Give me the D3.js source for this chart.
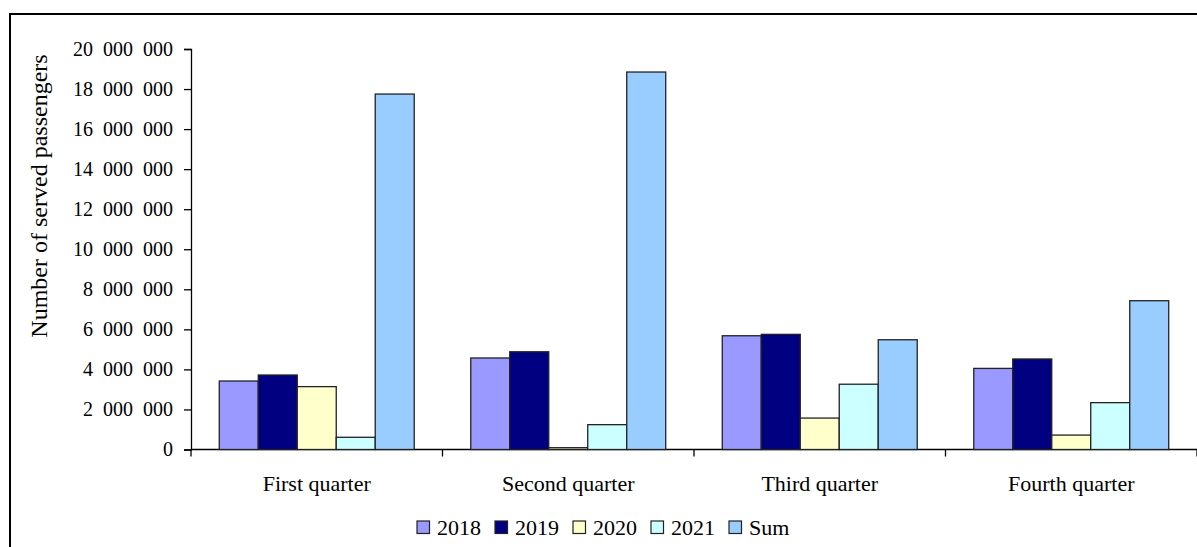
<html>
<head>
  <script src="https://d3js.org/d3.v7.min.js"></script>
  <style>
    body { margin: 0; background: #fff; }
    svg text { font-family: "Liberation Serif", "Times New Roman", serif; fill: #000; }
    .axis path, .axis line { stroke: #000; stroke-width: 1.3px; }
    .bar { stroke: #222; stroke-width: 1.3px; }
  </style>
</head>
<body>
  <svg id="chart" width="1197" height="547"></svg>
  <script>
    // data
    const quarters = ["First quarter", "Second quarter", "Third quarter", "Fourth quarter"];
    const series = ["2018", "2019", "2020", "2021", "Sum"];
    const colors = ["#9999ff", "#000080", "#ffffcc", "#ccffff", "#99ccff"];
    const v2018 = [3420000, 4570000, 5680000, 4050000];
    const v2019 = [3720000, 4880000, 5750000, 4520000];
    const v2020 = [3140000, 90000, 1570000, 720000];
    const v2021 = [610000, 1240000, 3260000, 2340000];
    const vSum = [17750000, 18850000, 5480000, 7430000];
    const yTicks = [0, 2000000, 4000000, 6000000, 8000000, 10000000, 12000000, 14000000, 16000000, 18000000, 20000000];

    const values = [v2018, v2019, v2020, v2021, vSum];

    const svg = d3.select("svg#chart");
    const margin = { top: 49, left: 191, bottom: 449.5, right: 1197 };
    const serif = '"Liberation Serif", "Times New Roman", serif';

    // outer chart border
    svg.append("rect")
      .attr("x", 10).attr("y", 14)
      .attr("width", 1200).attr("height", 560)
      .attr("fill", "none").attr("stroke", "#000").attr("stroke-width", 2);

    const y = d3.scaleLinear().domain([0, 20000000]).range([margin.bottom, margin.top]);
    const x = d3.scaleBand().domain(quarters).range([margin.left, margin.right]);
    const xs = d3.scaleBand().domain(series).range([0, x.bandwidth()]).paddingInner(0).paddingOuter(0.725);

    // thousands separated by a figure-wide gap, as in the original
    const fmt = d3.formatLocale({ decimal: ".", thousands: "\u00a0\u00a0", grouping: [3], currency: ["", ""] }).format(",");

    const leftAxis = d3.axisLeft(y).tickValues(yTicks).tickFormat(fmt).tickSize(7).tickPadding(11);
    svg.append("g")
      .attr("class", "axis")
      .attr("transform", `translate(${margin.left},0)`)
      .call(leftAxis)
      .call(g => g.selectAll("text").style("font-size", "20px").style("font-family", serif));

    // x axis: line with ticks at the category boundaries
    const xAxis = svg.append("g").attr("class", "axis");
    xAxis.append("line")
      .attr("x1", margin.left).attr("x2", margin.right)
      .attr("y1", margin.bottom).attr("y2", margin.bottom);
    const bounds = quarters.map(q => x(q)).concat([x(quarters[3]) + x.bandwidth()]);
    xAxis.selectAll("line.tick").data(bounds).join("line")
      .attr("class", "tick")
      .attr("x1", d => d).attr("x2", d => d)
      .attr("y1", margin.bottom).attr("y2", margin.bottom + 7);
    xAxis.selectAll("text").data(quarters).join("text")
      .attr("x", d => x(d) + x.bandwidth() / 2)
      .attr("y", 490.5)
      .attr("text-anchor", "middle")
      .style("font-size", "22px")
      .text(d => d);

    // bars
    const groups = svg.append("g").selectAll("g").data(quarters).join("g")
      .attr("transform", d => `translate(${x(d)},0)`);
    groups.selectAll("rect")
      .data((q, i) => series.map((s, j) => ({ s: s, v: values[j][i], c: colors[j] })))
      .join("rect")
      .attr("class", "bar")
      .attr("x", d => xs(d.s))
      .attr("width", xs.bandwidth())
      .attr("y", d => y(d.v))
      .attr("height", d => y(0) - y(d.v))
      .attr("fill", d => d.c);

    // y label
    svg.append("text")
      .attr("transform", "translate(47,196) rotate(-90)")
      .attr("text-anchor", "middle")
      .style("font-size", "24px")
      .text("Number of served passengers");

    // legend
    const legend = svg.append("g").selectAll("g").data(series).join("g")
      .attr("transform", (d, i) => `translate(${417 + i * 78},521)`);
    legend.append("rect")
      .attr("width", 12.5).attr("height", 12.5)
      .attr("fill", (d, i) => colors[i])
      .attr("stroke", "#222").attr("stroke-width", 1.2);
    legend.append("text")
      .attr("x", 20).attr("y", 13.5)
      .style("font-size", "22px")
      .text(d => d);
  </script>
</body>
</html>
